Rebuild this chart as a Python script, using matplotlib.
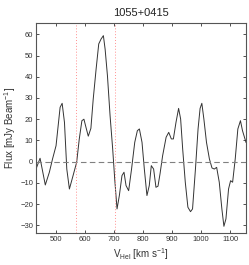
import matplotlib
matplotlib.use("Agg")
import matplotlib.pyplot as plt

plt.rcParams['font.family'] = ['Liberation Sans', 'DejaVu Sans']
plt.rcParams['mathtext.default'] = 'regular'

title = "1055+0415"
velocity = [431, 445, 463, 477, 488, 500, 514, 521, 529, 537, 546, 557, 571, 580,
            589, 596, 603, 611, 620, 628, 638, 647, 655, 663, 669, 677, 686, 695,
            702, 710, 718, 727, 734, 741, 750, 760, 771, 780, 787, 796, 804, 813,
            821, 828, 836, 844, 851, 858, 867, 879, 888, 897, 904, 913, 922, 929,
            936, 945, 954, 963, 970, 980, 989, 996, 1002, 1009, 1018, 1028, 1037,
            1045, 1053, 1062, 1071, 1078, 1085, 1094, 1101, 1108, 1117, 1126, 1135,
            1142, 1154]
flux = [-3.5, 1.6, -11, -5, 1.3, 7.5, 25.6, 27.5, 18.5, -3.5, -12.9, -7.4, -0.3, 10.7,
        19.3, 20, 16.2, 12, 15.7, 29.5, 43.7, 55.5, 57.8, 59.4, 53, 40.5, 21.7, 6,
        -8.2, -22.3, -16, -6.6, -5, -11.3, -13.7, -3.5, 9.1, 14.6, 15.4, 9.1, -3.5, -16,
        -11.3, -1.9, -3.5, -12.1, -11.6, -5.8, 2.8, 11.5, 13.8, 10.7, 10.7, 18.5, 25.1, 20.1,
        6, -9.7, -21.5, -23.6, -22.3, -3.5, 15.4, 25.1, 27.5, 20.1, 9.1, 1.3, -3,
        -3.5, -2.7, -9.7, -22.3, -30.5, -27, -12.9, -9, -9.7, 1.3, 15.4, 19.3,
        14.6, 9.1]
window = [570, 704]

fig = plt.figure(figsize=(2.49, 2.65), dpi=100)
ax = fig.add_axes([0.1446, 0.1196, 0.8421, 0.7947])

ax.plot(velocity, flux, color="#333333", lw=0.7)
ax.axhline(0, color="#808080", lw=0.8, ls=(0, (5, 3)))
for v in window:
    ax.axvline(v, color="#ff9090", lw=0.7, ls=(0, (1, 2)))

ax.set_xlim(431, 1153)
ax.set_ylim(-33.8, 65.5)
ax.set_xticks(range(500, 1101, 100))
ax.set_yticks(range(-30, 61, 10))
ax.tick_params(direction="in", length=2, width=0.6, top=True, right=True,
               labelsize=5.5, colors="#333333", pad=2)
for s in ax.spines.values():
    s.set_color("#555555")
    s.set_linewidth(0.8)

ax.set_title(title, fontsize=8, color="#222222", pad=5)
ax.set_xlabel(r"V$_{Hel}$ [km s$^{-1}$]", fontsize=7, color="#333333", labelpad=2)
ax.set_ylabel(r"Flux [mJy Beam$^{-1}$]", fontsize=7, color="#333333")
ax.yaxis.set_label_coords(-0.085, 0.5)

fig.savefig("out.png", dpi=100)
